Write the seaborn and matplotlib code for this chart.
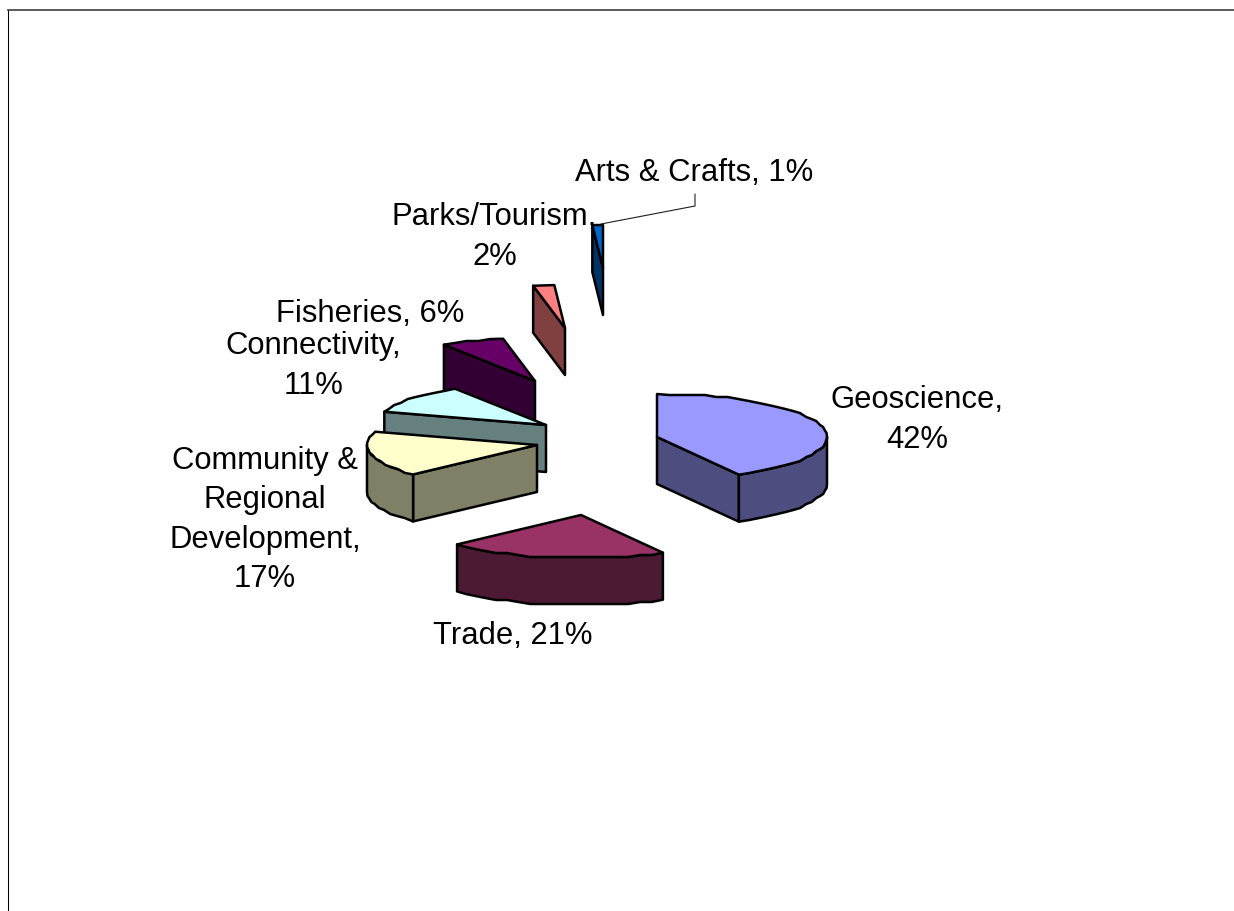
import numpy as np
import matplotlib
matplotlib.use("Agg")
import matplotlib.pyplot as plt
import seaborn as sns

categories = ["Geoscience", "Trade", "Community &\nRegional\nDevelopment",
              "Connectivity", "Fisheries", "Parks/Tourism", "Arts & Crafts"]
shares = [42, 21, 17, 11, 6, 2, 1]
top_colours = ["#9999FF", "#993366", "#FFFFCC", "#CCFFFF", "#660066", "#FF8080", "#0066CC"]
label_texts = ["Geoscience,\n42%", "Trade, 21%", "Community &\nRegional\nDevelopment,\n17%",
               "Connectivity,\n11%", "Fisheries, 6%", "Parks/Tourism,\n2%", "Arts & Crafts, 1%"]

# Layout of the exploded pie, in pixels
PIE_CENTRE = (590, 420)
RX, RY, DEPTH = 170, 43, 47
explode_x = [67, -9, -53, -44, -55, -25, 13]
explode_y = [17, 95, 25, 5, -39, -92, -152]
label_x = [917.5, 513, 265, 313.5, 370, 494.5, 694]
label_y = [420, 636, 520, 366, 314, 237, 173]

sns.set_theme(style="white")
plt.rcParams["font.family"] = ["Liberation Sans", "DejaVu Sans"]

fig = plt.figure(figsize=(12.34, 9.11), dpi=100, facecolor="white")
ax = fig.add_axes([7.5 / 1234, 0, 1 - 7.5 / 1234, 1 - 10 / 911])
ax.set_xlim(7.5, 1234)
ax.set_ylim(911, 10)
ax.set_xticks([])
ax.set_yticks([])
sns.despine(ax=ax, top=False, right=True, bottom=True)
ax.spines["left"].set_linewidth(0.75)
ax.spines["left"].set_color("black")
ax.spines["top"].set_linewidth(1.2)
ax.spines["top"].set_color("#404040")


def rim(start, end):
    """Points on the tilted rim between two clockwise angles, snapped to a coarse grid."""
    n = max(2, int((end - start) / 4) + 1)
    theta = np.linspace(start, end, n)
    x = RX * np.sin(np.radians(theta))
    y = -RY * np.cos(np.radians(theta))
    y[1:-1] = np.round(y[1:-1] / 2) * 2
    return x, y


edge = dict(edgecolor="black", linewidth=1.8, joinstyle="round")
bounds = np.concatenate([[0], np.cumsum(shares)]) * 360 / sum(shares)
palette = sns.color_palette(top_colours)

# Draw from the back of the pie to the front
for i in range(len(shares) - 1, -1, -1):
    start, end = bounds[i], bounds[i + 1]
    ox = PIE_CENTRE[0] + explode_x[i]
    oy = PIE_CENTRE[1] + explode_y[i]
    top = palette[i]
    side = tuple(c * 0.5 for c in top)

    # Flat cut faces that turn towards the viewer
    for angle, visible in ((start, 180 < start < 360), (end, 0 < end < 180)):
        if visible:
            px = ox + RX * np.sin(np.radians(angle))
            py = oy - RY * np.cos(np.radians(angle))
            ax.fill([ox, px, px, ox], [oy, py, py + DEPTH, oy + DEPTH], facecolor=side, **edge)

    # Outer wall on the near half of the rim
    w0, w1 = max(start, 90), min(end, 270)
    if w0 < w1:
        wx, wy = rim(w0, w1)
        ax.fill(np.r_[ox + wx, (ox + wx)[::-1]],
                np.r_[oy + wy, (oy + wy + DEPTH)[::-1]], facecolor=side, **edge)

    # Top surface
    tx, ty = rim(start, end)
    ax.fill(np.r_[ox, ox + tx], np.r_[oy, oy + ty], facecolor=top, **edge)

# Leader for the smallest slice
ax.plot([601, 695, 695], [224, 206, 194], color="#202020", linewidth=0.8)

for text, x, y in zip(label_texts, label_x, label_y):
    ax.text(x, y, text, ha="center", va="center", fontsize=22.3, color="black",
            linespacing=1.42)

fig.savefig("out.png", dpi=100, facecolor="white")
